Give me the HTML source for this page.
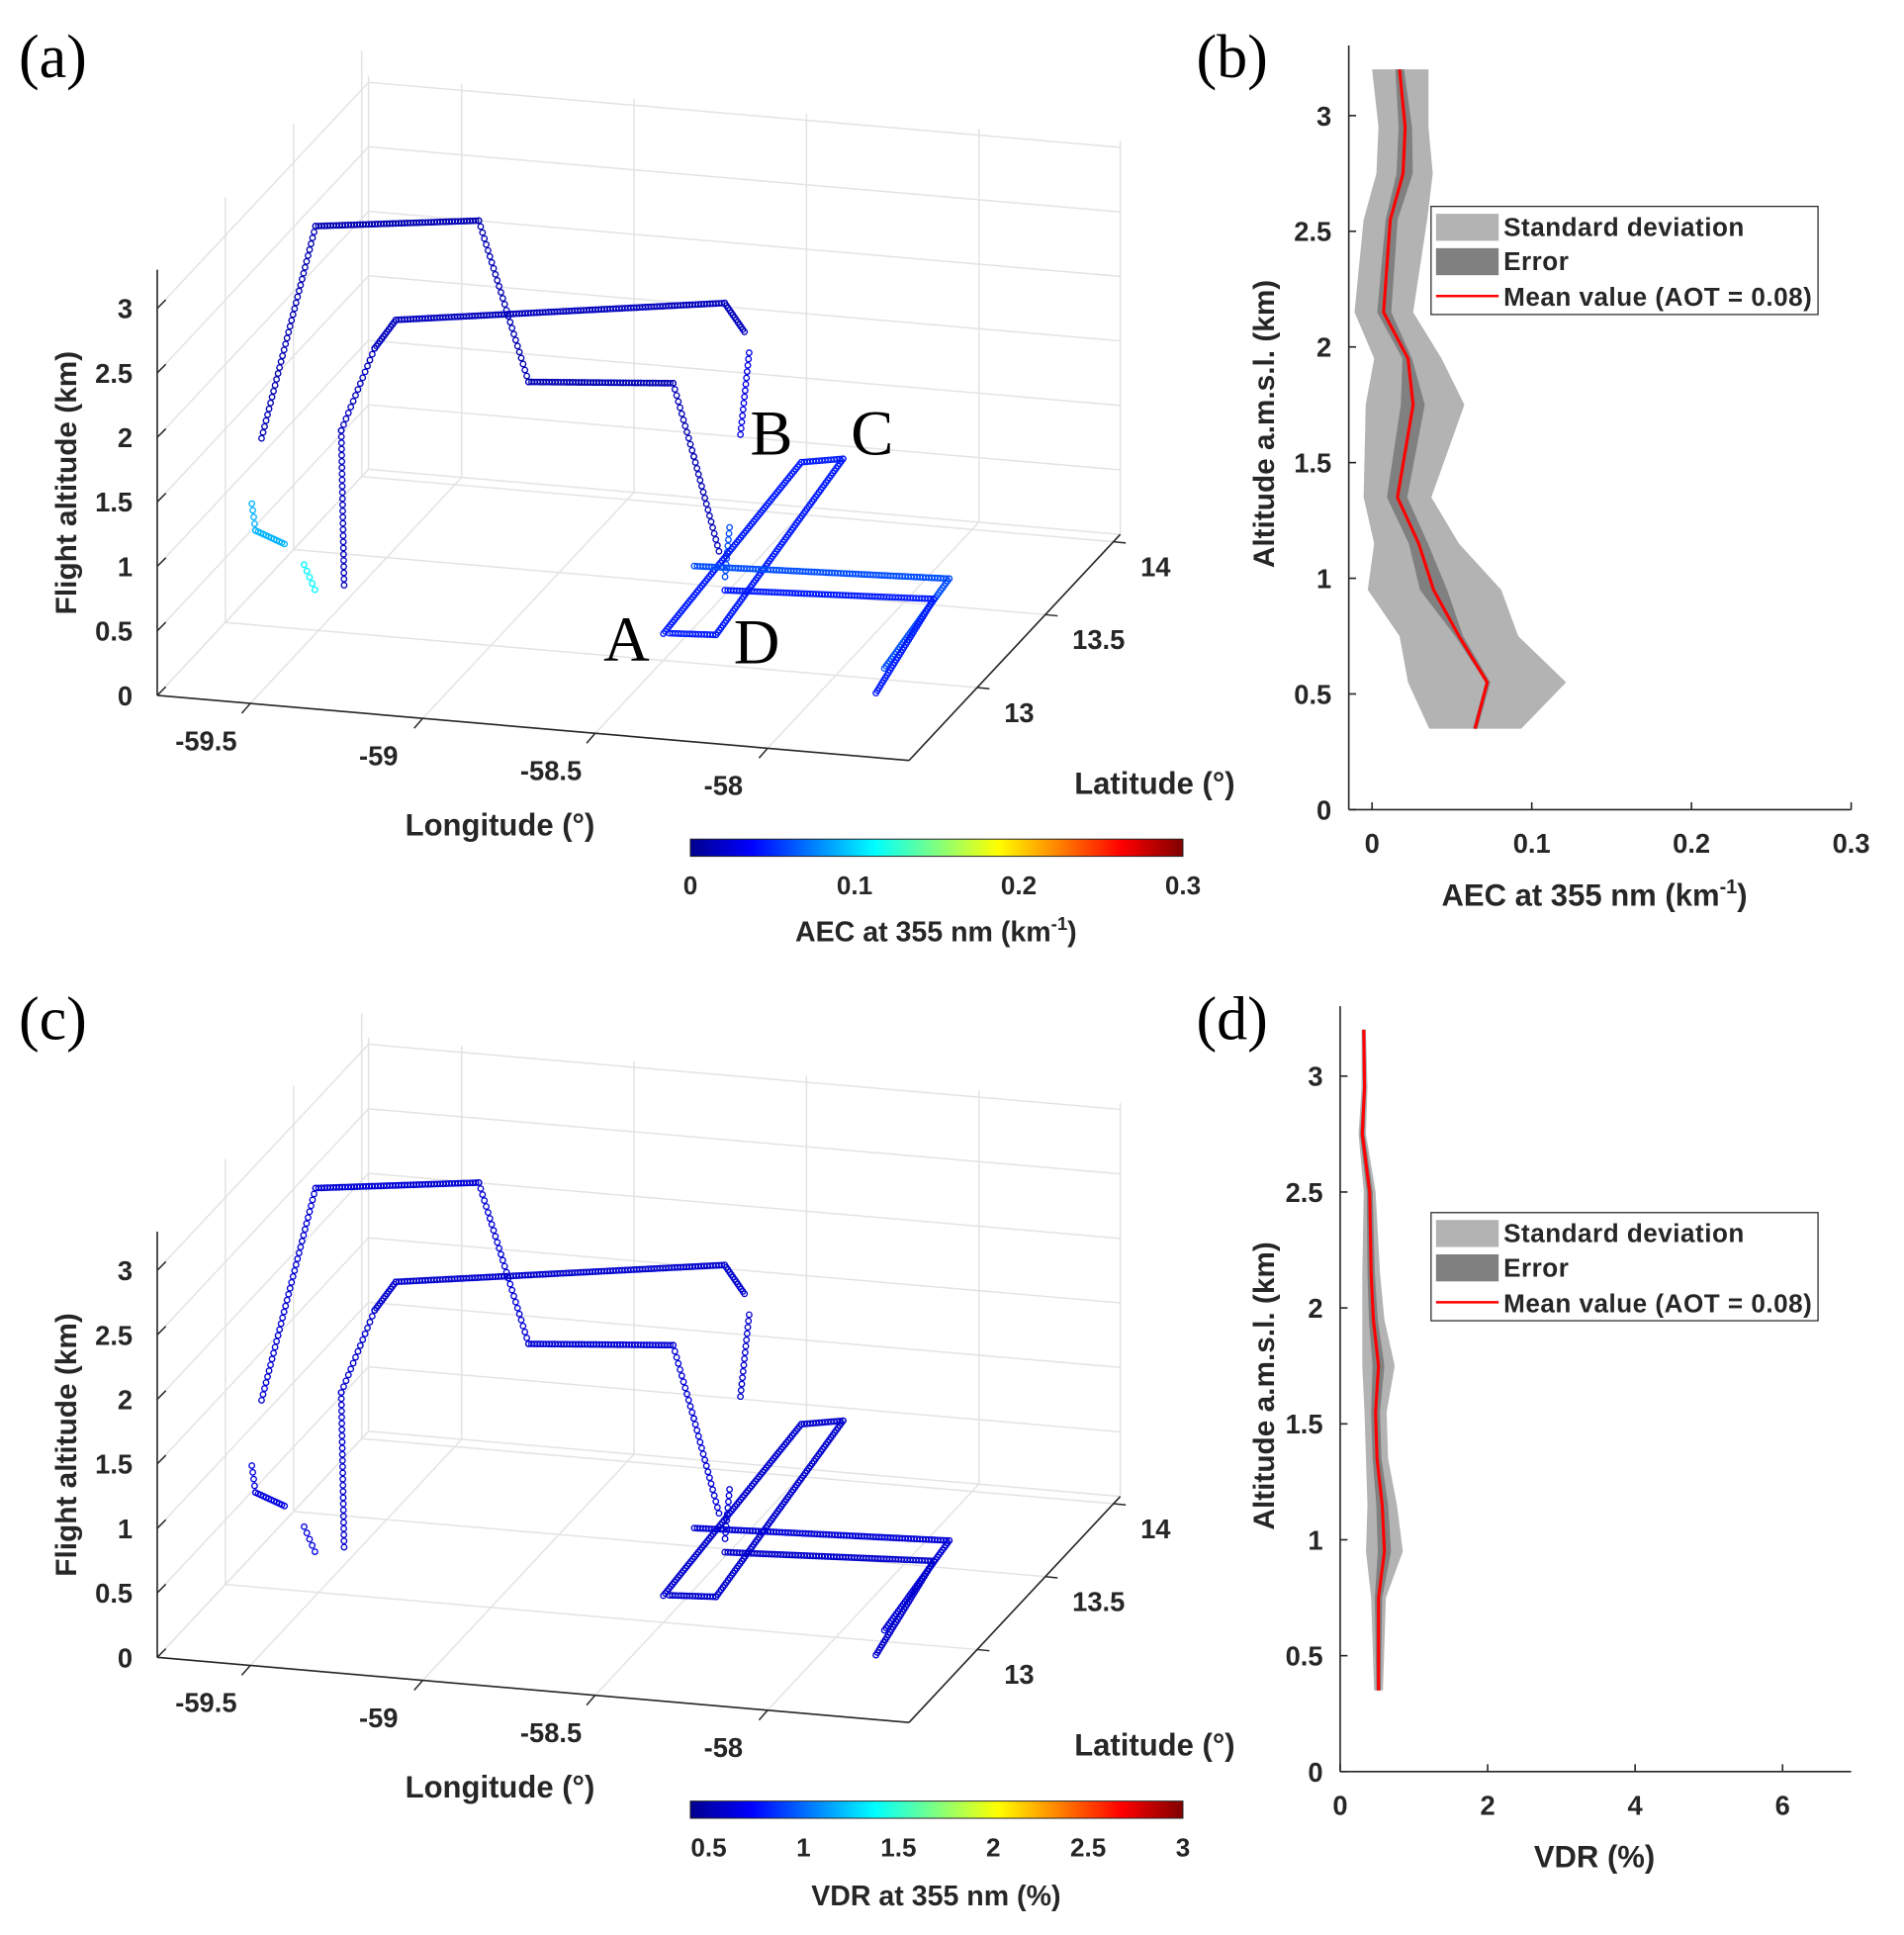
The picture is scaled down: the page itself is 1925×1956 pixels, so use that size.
<!DOCTYPE html>
<html><head><meta charset="utf-8"><title>Flight lidar figure</title>
<style>
html,body{margin:0;padding:0;background:#fff;}
svg{display:block;}
text{font-family:"Liberation Sans",Arial,sans-serif;font-weight:bold;fill:#262626;}
.serif{font-family:"Liberation Serif","Times New Roman",serif;font-weight:normal;fill:#000;}
</style></head>
<body>
<svg id="fig" xmlns="http://www.w3.org/2000/svg" width="1925" height="1956" viewBox="0 0 1550 1575" preserveAspectRatio="none">
<defs>
<linearGradient id="jet" x1="0" x2="1" y1="0" y2="0">
<stop offset="0" stop-color="#00008f"/><stop offset="0.125" stop-color="#0000ff"/><stop offset="0.375" stop-color="#00ffff"/><stop offset="0.625" stop-color="#ffff00"/><stop offset="0.875" stop-color="#ff0000"/><stop offset="1" stop-color="#800000"/>
</linearGradient>
</defs>
</svg>
<script>
// ---------- 3D flight track data (lon °, lat °, alt km) ----------
const trackLon = [
 [-59.49,-59.52,-59.105,-58.937,-58.549,-58.429,-58.309],
 [-59.255,-59.264,-59.153,-59.105,-58.285,-58.222],
 [-58.222,-58.227],
 [-58.244,-58.259],
 [-59.513,-59.5,-59.404],
 [-59.382,-59.338],
 [-58.375,-58.449,-58.346,-58.231,-58.36],
 [-58.499,-57.784,-57.727],
 [-58.355,-57.773,-57.686]
];
const trackLat = [
 [12.557,13.029,13.177,13.117,13.196,13.044,12.925],
 [12.568,12.570,12.534,12.568,12.906,12.892],
 [12.926,12.875],
 [12.838,12.843],
 [12.544,12.538,12.508],
 [12.596,12.564],
 [12.684,13.883,13.929,12.706,12.69],
 [13.224,13.286,12.666],
 [13.084,13.145,12.5]
];
const trackAlt = [
 [2.0,3.2,3.2,2.0,2.0,1.6,1.0],
 [0.9,2.1,2.8,3.0,3.0,2.8],
 [2.6,2.0],
 [1.3,0.9],
 [1.5,1.3,1.25],
 [1.0,0.85],
 [0.6,0.6,0.6,0.6,0.6],
 [0.5,0.5,0.5],
 [0.5,0.5,0.5]
];
const trackAEC = [0.015,0.018,0.03,0.06,0.09,0.11,0.045,0.06,0.045];
const trackVDR = [0.62,0.6,0.6,0.62,0.65,0.65,0.6,0.62,0.6];
const lonTicks = [-59.5,-59,-58.5,-58];
const latTicks = [13,13.5,14];
const altTicks = [0,0.5,1,1.5,2,2.5,3];
const aecCbTicks = [0,0.1,0.2,0.3];
const vdrCbTicks = [0.5,1,1.5,2,2.5,3];

// ---------- Profile data ----------
const profAlt = [3.2,2.95,2.75,2.55,2.15,1.95,1.75,1.35,1.15,0.95,0.75,0.55,0.35];
const aecMean = [0.0172,0.0207,0.0194,0.0114,0.0072,0.0225,0.0257,0.0159,0.0292,0.0385,0.0544,0.0721,0.0645];
const aecStdLo = [0,0.004,0.0027,-0.0053,-0.011,0.0013,-0.004,-0.0053,0.0013,-0.0027,0.0172,0.0225,0.0358];
const aecStdHi = [0.0353,0.0353,0.038,0.0345,0.0257,0.0435,0.0578,0.0371,0.0544,0.0809,0.0915,0.1215,0.0934];
const aecErrLo = [0.0146,0.0166,0.0153,0.0085,0.0032,0.019,0.018,0.0093,0.023,0.030,0.052,0.071,0.063];
const aecErrHi = [0.020,0.025,0.0255,0.016,0.012,0.025,0.033,0.022,0.035,0.047,0.057,0.074,0.066];
const vdrAlt = [3.2,2.95,2.75,2.5,2.15,1.95,1.75,1.55,1.35,1.15,0.95,0.75,0.55,0.35];
const vdrMean = [0.32,0.33,0.3,0.4,0.42,0.45,0.52,0.48,0.5,0.57,0.6,0.52,0.52,0.52];
const vdrStd = [0.03,0.04,0.05,0.08,0.12,0.15,0.22,0.15,0.15,0.2,0.25,0.1,0.08,0.06];
const vdrErr = [0.02,0.02,0.03,0.04,0.05,0.06,0.08,0.06,0.06,0.08,0.09,0.05,0.04,0.03];
const aecXTicks = [0,0.1,0.2,0.3];
const vdrXTicks = [0,2,4,6];
const profYTicks = [0,0.5,1,1.5,2,2.5,3];

const NS = "http://www.w3.org/2000/svg";
const svg = document.getElementById('fig');
function el(tag, parent, attrs){const e=document.createElementNS(NS,tag);for(const k in attrs)e.setAttribute(k,attrs[k]);parent.appendChild(e);return e;}
function txt(parent,x,y,s,size,anchor,cls){const t=el('text',parent,{x:x,y:y,'font-size':size,'text-anchor':anchor||'middle'});if(cls)t.setAttribute('class',cls);t.textContent=s;return t;}

function jet(v){
  const r=Math.min(Math.max(Math.min(4*v-1.5,-4*v+4.5),0),1);
  const g=Math.min(Math.max(Math.min(4*v-0.5,-4*v+3.5),0),1);
  const b=Math.min(Math.max(Math.min(4*v+0.5,-4*v+2.5),0),1);
  return 'rgb('+Math.round(r*255)+','+Math.round(g*255)+','+Math.round(b*255)+')';
}

const LON0=-59.77,LON1=-57.59,LAT0=12.5,LAT1=14.05,ZMAX=3.3;
function P(lon,lat,alt,oy,k){if(k===undefined)k=0.094;const u=(lon-LON0)/(LON1-LON0);const t=(lat-LAT0)/(LAT1-LAT0);const zs=105*(1-k*t);return [128+612*u+172*t,566+oy+53*u-184*t-alt*zs];}
function G(lon,lat,alt,oy){return P(lon,lat,alt,oy,0);}

function panel3D(oy, vals, cmin, cmax, cbTicks, cbTitle, cbSup, letter, nameP){
  const g=el('g',svg,{});
  
  
  const grid=el('g',g,{stroke:'#e3e3e3','stroke-width':1.2,fill:'none'});
  
  
  function L(a,b,parent,stroke,w){return el('line',parent,{x1:a[0],y1:a[1],x2:b[0],y2:b[1],stroke:stroke||'#e3e3e3','stroke-width':w||1.2});}
  altTicks.forEach(z=>{L(G(LON0,LAT1,z,oy),G(LON1,LAT1,z,oy),grid);L(G(LON0,LAT0,z,oy),G(LON0,LAT1,z,oy),grid);});
  lonTicks.concat([LON0,LON1]).forEach(lo=>{L(G(lo,LAT1,0,oy),G(lo,LAT1,3.05,oy),grid);L(G(lo,LAT0,0,oy),G(lo,LAT1,0,oy),grid);});
  latTicks.forEach(la=>{L(G(LON0,la,0,oy),G(LON0,la,ZMAX,oy),grid);L(G(LON0,la,0,oy),G(LON1,la,0,oy),grid);});
  L(G(LON0,LAT0,0,oy),G(LON1,LAT0,0,oy),grid);
  const ax=el('g',g,{});
  
  
  L(G(LON0,LAT0,0,oy),G(LON0,LAT0,ZMAX,oy),ax,'#262626',1.3);
  L(G(LON0,LAT0,0,oy),G(LON1,LAT0,0,oy),ax,'#262626',1.3);
  L(G(LON1,LAT0,0,oy),G(LON1,LAT1,0,oy),ax,'#262626',1.3);
  altTicks.forEach(z=>{const p=G(LON0,LAT0,z,oy);L(p,[p[0]+7,p[1]-7],ax,'#262626',1.2);
    const t=txt(ax,p[0]-20,p[1]+8,String(z),22,'end');
    
    });
  lonTicks.forEach(lo=>{const p=G(lo,LAT0,0,oy);L(p,[p[0]-7,p[1]+8],ax,'#262626',1.2);
    const t=txt(ax,p[0]-36,p[1]+38,String(lo),22,'middle');
    
    });
  latTicks.forEach(la=>{const p=G(LON1,la,0,oy);L(p,[p[0]+10,p[1]+1],ax,'#262626',1.2);
    const t=txt(ax,p[0]+22,p[1]+28,String(la),22,'start');
    
    });
  let t=txt(g,0,0,'Flight altitude (km)',24,'middle');
  t.setAttribute('transform','translate(62,'+(393+oy)+') rotate(-90)');
  
  
  t=txt(g,407,680+oy,'Longitude (°)',25,'middle');
  
  
  t=txt(g,940,646+oy,'Latitude (°)',25,'middle');
  
  
  const tr=el('g',g,{fill:'none','stroke-width':1.1});
  
  
  for(let i=0;i<trackLon.length;i++){
    const col=jet((vals[i]-cmin)/(cmax-cmin));
    const seg=el('g',tr,{stroke:col});
    
    
    for(let j=0;j<trackLon[i].length-1;j++){
      const a=P(trackLon[i][j],trackLat[i][j],trackAlt[i][j],oy),b=P(trackLon[i][j+1],trackLat[i][j+1],trackAlt[i][j+1],oy);
      const dx=b[0]-a[0],dy=b[1]-a[1];const d=Math.hypot(dx,dy);
      const sp=(Math.abs(dy)>Math.abs(dx)*1.6 && i<6)?5:2.4;
      const n=Math.max(1,Math.round(d/sp));
      for(let k=0;k<=n;k++){const f=k/n;el('circle',seg,{cx:a[0]+dx*f,cy:a[1]+dy*f,r:2.2});}
    }
  }
  const cb=el('g',g,{});
  
  
  el('rect',cb,{x:562,y:683+oy,width:401,height:14,fill:'url(#jet)',stroke:'#262626','stroke-width':0.8});
  cbTicks.forEach(v=>{const x=562+401*(v-cmin)/(cmax-cmin);const tt=txt(cb,x,728+oy,String(v),21,'middle');
    
    });
  const ct=txt(cb,762,766+oy-(cbSup?0:-2),cbTitle,23,'middle');
  
  
  if(cbSup){const s1=document.createElementNS(NS,'tspan');s1.setAttribute('dy','-9');s1.setAttribute('font-size','15');s1.textContent='-1';ct.appendChild(s1);
    const s2=document.createElementNS(NS,'tspan');s2.setAttribute('dy','9');s2.textContent=')';ct.appendChild(s2);}
  const lt=txt(g,43,63+oy,letter,50,'middle','serif');
  
  
}
panel3D(0,trackAEC,0,0.3,aecCbTicks,'AEC at 355 nm (km',true,'(a)','panel-a');
panel3D(783,trackVDR,0.403,3,vdrCbTicks,'VDR at 355 nm (%)',false,'(c)','panel-c');
[['A',510,538],['B',628,370],['C',710,370],['D',616,540]].forEach(l=>{const t=txt(svg,l[1],l[2],l[0],52,'middle','serif');
  
  });

function profile(o){
  const g=el('g',svg,{});
  
  
  const X=v=>o.x0+(v-o.xmin)/(o.xmax-o.xmin)*(o.x1-o.x0);
  const Y=a=>o.y0-a*o.ys;
  function band(lo,hi,fill,nm){let pts=[];for(let i=0;i<o.alt.length;i++)pts.push(X(lo[i])+','+Y(o.alt[i]));for(let i=o.alt.length-1;i>=0;i--)pts.push(X(hi[i])+','+Y(o.alt[i]));
    const p=el('polygon',g,{points:pts.join(' '),fill:fill});
    
    }
  band(o.sLo,o.sHi,'#b3b3b3','std-band');
  band(o.eLo,o.eHi,'#808080','error-band');
  const ml=el('polyline',g,{points:o.alt.map((a,i)=>X(o.mean[i])+','+Y(a)).join(' '),fill:'none',stroke:'#ff0000','stroke-width':2.5});
  
  
  const ax=el('g',g,{stroke:'#262626','stroke-width':1.3});
  
  
  el('line',ax,{x1:o.x0,y1:o.y0,x2:o.x0,y2:o.ytop});
  el('line',ax,{x1:o.x0,y1:o.y0,x2:o.x1,y2:o.y0});
  o.yt.forEach(a=>{el('line',ax,{x1:o.x0,y1:Y(a),x2:o.x0+6,y2:Y(a)});
    const t=txt(g,o.x0-14,Y(a)+8,String(a),22,'end');
    
    });
  o.xt.forEach(v=>{el('line',ax,{x1:X(v),y1:o.y0,x2:X(v),y2:o.y0-6});
    const t=txt(g,X(v),o.y0+35,String(v),22,'middle');
    
    });
  let t=txt(g,0,0,'Altitude a.m.s.l. (km)',24,'middle');
  t.setAttribute('transform','translate(1037,'+(o.y0-314)+') rotate(-90)');
  
  
  t=txt(g,1298,o.y0+78,o.xtitle,25,'middle');
  
  
  if(o.sup){const s1=document.createElementNS(NS,'tspan');s1.setAttribute('dy','-10');s1.setAttribute('font-size','16');s1.textContent='-1';t.appendChild(s1);
    const s2=document.createElementNS(NS,'tspan');s2.setAttribute('dy','10');s2.textContent=')';t.appendChild(s2);}
  const lg=el('g',g,{});
  
  
  const ly=o.ly;
  el('rect',lg,{x:1165,y:ly,width:315,height:88,fill:'#fff',stroke:'#262626','stroke-width':1});
  el('rect',lg,{x:1169,y:ly+6,width:51,height:22,fill:'#b3b3b3'});
  el('rect',lg,{x:1169,y:ly+34,width:51,height:22,fill:'#808080'});
  el('line',lg,{x1:1169,y1:ly+73,x2:1220,y2:ly+73,stroke:'#ff0000','stroke-width':2});
  [['Standard  deviation',24],['Error',52],['Mean value (AOT = 0.08)',81]].forEach(e=>{const tt=txt(lg,1224,ly+e[1],e[0],21,'start');
    tt.setAttribute('xml:space','preserve');
    tt.setAttribute('letter-spacing','0.4');
    
    });
  const lt=txt(g,1003,o.y0-596,o.letter,50,'middle','serif');
  
  
}
profile({name:'panel-b-aec-profile',x0:1098,x1:1507,xmin:-0.0146,xmax:0.3,y0:659,ys:188.3,ytop:37,alt:profAlt,mean:aecMean,sLo:aecStdLo,sHi:aecStdHi,eLo:aecErrLo,eHi:aecErrHi,xt:aecXTicks,yt:profYTicks,xtitle:'AEC at 355 nm (km',sup:true,ly:168,letter:'(b)'});
profile({name:'panel-d-vdr-profile',x0:1091,x1:1507,xmin:0,xmax:6.93,y0:1442,ys:188.7,ytop:819,alt:vdrAlt,mean:vdrMean,sLo:vdrMean.map((m,i)=>m-vdrStd[i]),sHi:vdrMean.map((m,i)=>m+vdrStd[i]),eLo:vdrMean.map((m,i)=>m-vdrErr[i]),eHi:vdrMean.map((m,i)=>m+vdrErr[i]),xt:vdrXTicks,yt:profYTicks,xtitle:'VDR (%)',sup:false,ly:987,letter:'(d)'});
</script>
</body></html>
